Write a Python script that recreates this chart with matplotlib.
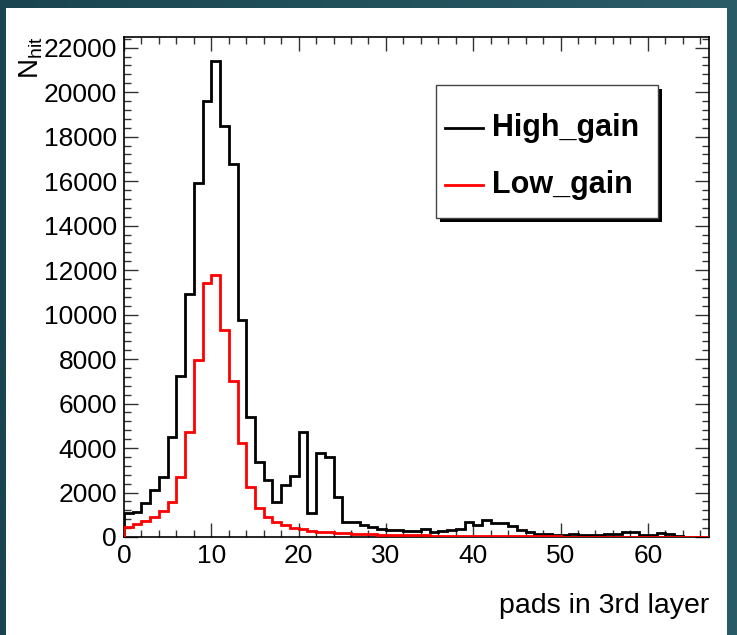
import numpy as np
import matplotlib
matplotlib.use("Agg")
import matplotlib.pyplot as plt
from matplotlib.ticker import MultipleLocator
from matplotlib.patches import Rectangle

plt.rcParams['font.family'] = ['Liberation Sans', 'DejaVu Sans']
plt.rcParams['mathtext.fontset'] = 'custom'
plt.rcParams['mathtext.rm'] = 'Liberation Sans'
plt.rcParams['mathtext.it'] = 'Liberation Sans:italic'

# number of pads fired in the 3rd layer, one bin per pad count (0..66)
edges = np.arange(0, 68)
high_gain = [1065, 1140, 1550, 2130, 2710, 4500, 7250, 10920, 15920, 19610,
             21410, 18470, 16750, 9740, 5410, 3385, 2560, 1570, 2340, 2760,
             4720, 1065, 3760, 3610, 1810, 690, 690, 540, 430, 380,
             330, 300, 290, 280, 340, 240, 290, 300, 340, 690,
             560, 764, 650, 640, 500, 315, 225, 150, 140, 110,
             100, 120, 110, 90, 110, 120, 130, 220, 210, 90,
             80, 160, 150, 60, 20, 10, 5]
low_gain = [463, 584, 720, 880, 1170, 1590, 2712, 4734, 7955, 11401,
            11780, 9303, 7000, 4211, 2261, 1289, 913, 660, 539, 419,
            344, 285, 240, 215, 195, 165, 145, 130, 115, 105,
            95, 88, 80, 75, 70, 65, 60, 56, 52, 48,
            45, 42, 40, 37, 35, 32, 30, 28, 26, 24,
            22, 20, 19, 18, 17, 16, 15, 14, 13, 12,
            11, 10, 9, 8, 7, 6, 5]
series = [("High_gain", high_gain, "black"), ("Low_gain", low_gain, "#ff0000")]

fig = plt.figure(figsize=(7.37, 6.35), dpi=100)

# teal slide background with white canvas on top
bg = fig.add_axes([0, 0, 1, 1], zorder=-10)
grad = np.linspace(0, 1, 256).reshape(1, -1)
bg.imshow(grad, aspect='auto', cmap=matplotlib.colors.LinearSegmentedColormap.from_list(
    'teal', ['#1a4550', '#2a5c67']), extent=[0, 1, 0, 1])
bg.add_patch(Rectangle((6 / 737, 0), (727 - 6) / 737, (635 - 8) / 635,
                       facecolor='white', edgecolor='none'))
bg.set_xlim(0, 1)
bg.set_ylim(0, 1)
bg.axis('off')

ax = fig.add_axes([124 / 737, 1 - 537 / 635, (709 - 124) / 737, (537 - 37) / 635])
ax.set_facecolor('none')

for name, vals, col in series:
    ax.stairs(vals, edges, color=col, lw=2.0, zorder=3)

ax.set_xlim(0, 67)
ax.set_ylim(0, 22480)
ax.xaxis.set_major_locator(MultipleLocator(10))
ax.xaxis.set_minor_locator(MultipleLocator(2))
ax.yaxis.set_major_locator(MultipleLocator(2000))
ax.yaxis.set_minor_locator(MultipleLocator(400))
ax.tick_params(which='both', direction='in', top=True, right=True, width=1.0, color='#333333')
ax.tick_params(which='major', length=10, labelsize=19, pad=5)
ax.tick_params(which='minor', length=5)
for s in ax.spines.values():
    s.set_linewidth(1.2)

ax.set_xlabel("pads in 3rd layer", fontsize=20.5, loc='right', labelpad=18)
fig.text(31 / 737, 1 - 36 / 635, r"N$_{\mathrm{hit}}$", rotation=90, fontsize=20,
         ha='center', va='top')

# legend box with drop shadow, in axes fractions
x0, y0, w, h = 0.533, 0.638, 0.38, 0.266
sh = 4 / 585
ax.add_patch(Rectangle((x0 + sh, y0 - sh * 585 / 500), w, h, transform=ax.transAxes,
                       facecolor='black', edgecolor='none', zorder=5))
ax.add_patch(Rectangle((x0, y0), w, h, transform=ax.transAxes,
                       facecolor='white', edgecolor='#444444', lw=1.0, zorder=6))
for (name, vals, col), yy in zip(series, [0.818, 0.704]):
    ax.plot([0.549, 0.614], [yy, yy], color=col, lw=2.0, transform=ax.transAxes, zorder=7)
    ax.text(0.629, yy, name, transform=ax.transAxes, fontsize=22, fontweight='bold',
            va='center', ha='left', zorder=7)

fig.savefig("out.png", dpi=100)
